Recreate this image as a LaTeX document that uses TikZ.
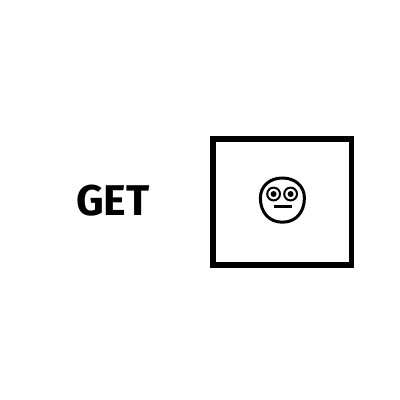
\documentclass[tikz,border=0pt]{standalone}
\usepackage{fontspec}
\newfontfamily\labelfont{Fira Sans}
\begin{document}
\begin{tikzpicture}[x=1pt,y=-1pt,
  framebox/.style={draw=black,line width=5.5pt,minimum width=138.2pt,minimum height=125.7pt,inner sep=0pt,outer sep=0pt},
  getlabel/.style={inner sep=0pt,font=\labelfont\bfseries\fontsize{43}{43}\selectfont},
  faceline/.style={draw=black,line width=3pt},
  eyeline/.style={draw=black,line width=2pt}]
\useasboundingbox (0,0) rectangle (400,400);
\fill[white] (0,0) rectangle (400,400);
\node[getlabel] (get) at (113,201) {GET};
\node[framebox] (box) at (282.3,202) {};
% face
\draw[faceline] (282.4,178) .. controls (295,178) and (304.4,186) .. (304.4,198)
  .. controls (304.4,212) and (296,222.2) .. (282.4,222.2)
  .. controls (268.8,222.2) and (260.4,212) .. (260.4,198)
  .. controls (260.4,186) and (269.8,178) .. (282.4,178) -- cycle;
\draw[eyeline] (273.6,194) circle (6.4);
\draw[eyeline] (290.6,194) circle (6.4);
\fill (273.6,194) circle (3);
\fill (290.6,194) circle (3);
\draw[draw=black,line width=3pt] (273.5,206.7) -- (291.5,206.7);
\end{tikzpicture}
\end{document}
